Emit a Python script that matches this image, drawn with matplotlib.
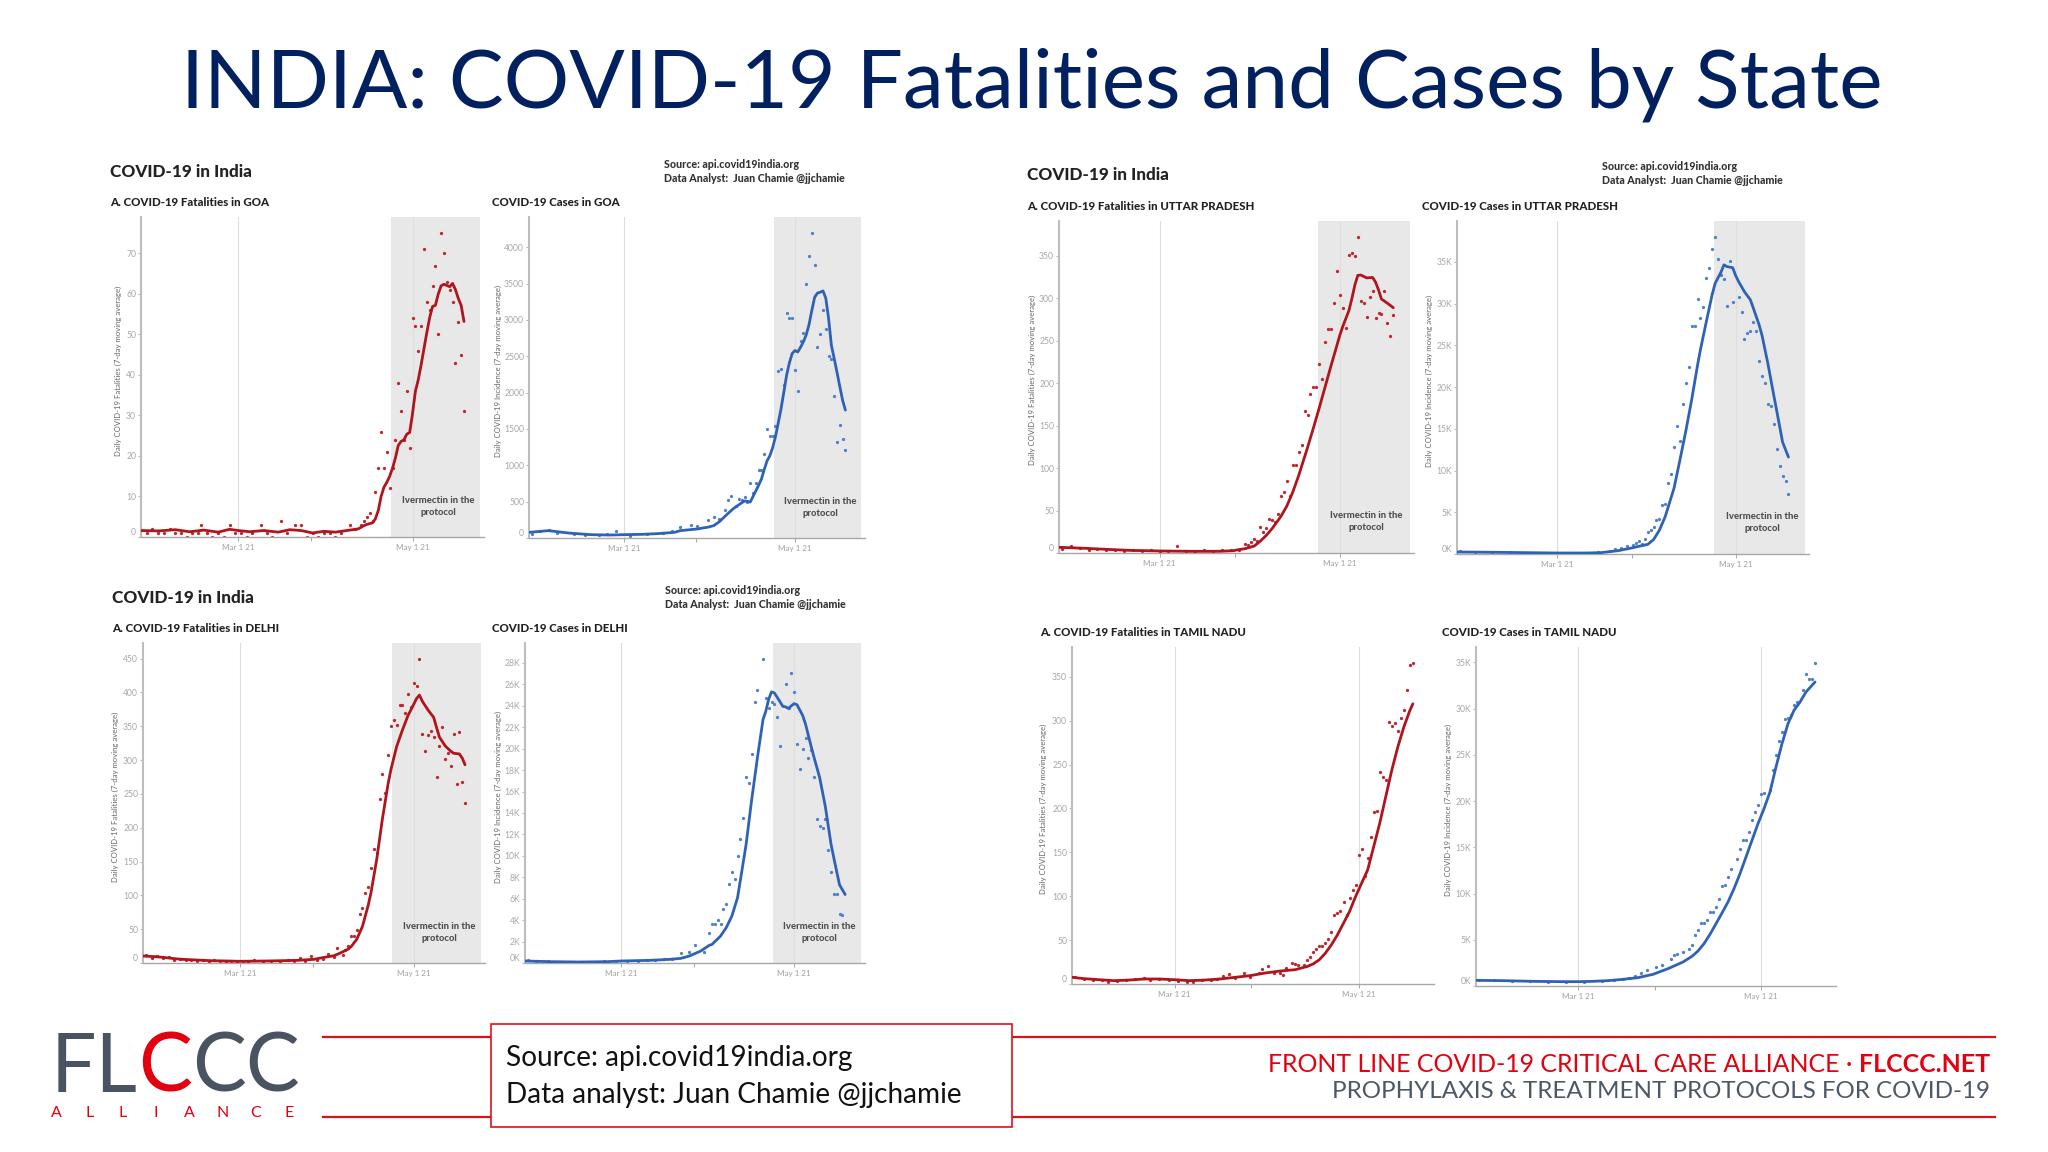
import matplotlib
matplotlib.use("Agg")
import matplotlib.pyplot as plt
import matplotlib.transforms as mtransforms
from matplotlib.lines import Line2D
from matplotlib.patches import Rectangle

plt.rcParams['font.family'] = ['Lato', 'DejaVu Sans']

W, H = 2048, 1152

### x axis is days counted from Mar 1 2021
X_TICK_DAYS = [0, 61]
X_TICK_LABELS = ["Mar 1 21", "May 1 21"]
IVM_START, IVM_END = 53.5, 84.5   # "Ivermectin in the protocol" band

### (day, 7-day average) and (day, daily value)
GOA_DEATHS_AVG = [(-34, 1.6), (-28, 1.5), (-22, 1.8), (-17, 1.3), (-12, 1.7), (-7, 1.2), (-3, 1.9), (0, 1.6),
                  (4, 1.3), (9, 1.6), (14, 1.2), (18, 1.8), (22, 1.6), (26, 1.0), (30, 1.4), (34, 1.2), (38, 1.6),
                  (41, 1.9), (42, 2.0), (43, 2.4), (44, 2.8), (45, 3.1), (46, 3.3), (47, 3.5), (48, 4.5), (49, 6.5),
                  (50, 10.0), (51, 12.3), (52, 13.5), (53, 15.0), (54, 17.0), (55, 19.5), (56, 22.6), (57, 23.6),
                  (58, 24.0), (59, 25.4), (60, 25.8), (61, 30.5), (62, 36.0), (63, 38.8), (64, 42.5), (65, 46.5),
                  (66, 50.5), (67, 54.2), (68, 56.9), (69, 57.2), (70, 60.0), (71, 62.0), (72, 62.4), (73, 62.1),
                  (74, 61.8), (75, 62.6), (76, 61.1), (77, 58.9), (78, 57.2), (79, 53.2)]
GOA_DEATHS = [(-32, 1), (-30, 2), (-28, 1), (-26, 1), (-24, 2), (-22, 1), (-20, 1), (-18, 0), (-16, 1), (-14, 1),
              (-13, 3), (-11, 1), (-9, 0), (-7, 1), (-5, 0), (-3, 3), (-1, 1), (1, 1), (3, 0), (5, 1), (8, 3),
              (10, 1), (12, 0), (15, 4), (17, 1), (20, 3), (22, 3), (24, 0), (26, 1), (28, 0), (30, 1), (32, 1),
              (34, 0), (36, 1), (39, 3), (41, 2), (43, 3), (44, 4), (45, 5), (46, 6), (47, 4), (48, 11), (49, 17),
              (50, 26), (51, 17), (52, 21), (53, 12), (54, 17), (55, 24), (56, 38), (57, 31), (58, 24), (59, 36),
              (60, 22), (61, 54), (62, 52), (63, 46), (64, 52), (65, 71), (66, 58), (67, 56), (68, 62), (69, 67),
              (70, 50), (71, 75), (72, 70), (73, 63), (74, 61), (75, 58), (76, 43), (77, 53), (78, 45), (79, 31)]

GOA_CASES_AVG = [(-34, 78), (-27, 101), (-20, 69), (-12, 46), (-5, 41), (0, 46), (6, 50), (12, 60), (18, 78),
                 (20, 101), (26, 124), (30, 150), (32, 170), (34, 225), (37, 335), (39, 405), (42, 485), (43, 510),
                 (44, 505), (45, 495), (46, 570), (48, 725), (49, 810), (50, 940), (51, 1060), (52, 1130),
                 (53, 1240), (54, 1390), (55, 1580), (56, 1775), (57, 2005), (58, 2240), (59, 2410), (60, 2540),
                 (61, 2580), (62, 2560), (63, 2626), (64, 2700), (65, 2795), (66, 2935), (67, 3130), (68, 3310),
                 (69, 3370), (70, 3382), (71, 3400), (72, 3300), (73, 3020), (74, 2650), (75, 2470), (76, 2280),
                 (77, 2085), (78, 1895), (79, 1760)]
GOA_CASES = [(-33, 60), (-30, 90), (-27, 110), (-24, 70), (-18, 50), (-14, 40), (-9, 35), (-6, 60), (-3, 101),
             (2, 30), (8, 60), (14, 70), (17, 90), (20, 156), (24, 184), (26, 170), (30, 248), (32, 285), (34, 262),
             (36, 386), (37, 523), (38, 583), (40, 445), (41, 537), (42, 523), (43, 560), (44, 490), (45, 753),
             (46, 620), (47, 753), (48, 937), (49, 937), (50, 1157), (51, 1501), (52, 1410), (53, 1410), (54, 1543),
             (55, 2296), (56, 2328), (57, 2107), (58, 3099), (59, 3026), (60, 3026), (61, 2305), (62, 2029),
             (63, 2704), (64, 2819), (65, 3499), (66, 3875), (67, 4197), (68, 3751), (69, 2635), (70, 2810),
             (71, 3131), (72, 2870), (73, 2498), (74, 2466), (75, 1960), (76, 1318), (77, 1561), (78, 1359),
             (79, 1212)]

UP_DEATHS_AVG = [(-34, 6.7), (-25, 5.5), (-18, 4.3), (-10, 3.1), (0, 2.4), (10, 2.0), (20, 2.0), (25, 2.7),
                 (26, 3.5), (29, 5.2), (32, 8.2), (34, 13.8), (36, 20.5), (38, 28.6), (41, 43), (43, 55.2),
                 (45, 71.5), (47, 91), (50, 124), (52, 147.3), (54, 171.2), (56, 196.2), (58, 221.1), (61, 257.3),
                 (62, 267.5), (64, 285.5), (65, 299.6), (66, 315.5), (67, 327), (68, 327.4), (70, 324), (72, 324.5),
                 (73, 319.1), (74, 309.9), (75, 299), (76, 296.7), (78, 291.6), (79, 288.9)]
UP_DEATHS = [(-33, 5), (-30, 8), (-27, 6), (-24, 4), (-21, 5), (-18, 3), (-15, 4), (-12, 2), (-9, 3), (-6, 2),
             (-3, 3), (0, 1), (3, 2), (6, 8), (9, 2), (12, 1), (15, 3), (18, 2), (21, 3), (24, 3), (27, 4), (29, 11),
             (30, 9), (31, 13), (32, 16), (33, 14), (34, 31), (35, 25), (36, 30), (37, 40), (38, 39), (39, 36),
             (40, 46), (41, 67), (42, 72), (43, 85), (44, 67), (45, 104), (46, 104), (47, 119), (48, 127), (49, 167),
             (50, 162), (51, 187), (52, 195), (53, 196), (54, 222), (55, 205), (56, 249), (57, 264), (58, 264),
             (59, 295), (60, 332), (61, 304), (62, 288), (63, 265), (64, 351), (65, 353), (66, 350), (67, 372),
             (68, 297), (69, 294), (70, 278), (71, 301), (72, 308), (73, 277), (74, 283), (75, 281), (76, 309),
             (77, 271), (78, 255), (79, 280)]

UP_CASES_AVG = [(-34, 240), (-20, 200), (-10, 160), (0, 120), (10, 120), (15, 160), (21, 400), (25, 680), (28, 920),
                (31, 1150), (33, 1720), (35, 2850), (37, 4500), (40, 7900), (42, 11270), (44, 14720), (46, 18480),
                (48, 22620), (49, 24500), (51, 27850), (53, 31100), (54, 32430), (56, 33780), (57, 34640),
                (58, 34440), (60, 34300), (61, 33360), (62, 32640), (64, 31420), (66, 30470), (67, 29480),
                (69, 27450), (70, 26170), (72, 22790), (74, 19000), (75, 17150), (77, 13400), (79, 11610)]
UP_CASES = [(-33, 300), (-28, 250), (-22, 180), (-16, 200), (-10, 150), (-4, 120), (2, 100), (8, 150), (14, 250),
            (18, 400), (20, 600), (22, 700), (24, 900), (26, 1100), (27, 1300), (28, 1520), (29, 1200), (30, 1800),
            (31, 2590), (32, 2910), (33, 3230), (34, 4030), (35, 4200), (36, 5910), (37, 5990), (38, 8500),
            (39, 9620), (40, 12770), (41, 15280), (42, 13570), (43, 17960), (44, 20470), (45, 22350), (46, 27370),
            (47, 27370), (48, 30570), (49, 28250), (50, 29650), (51, 33120), (52, 34320), (53, 36590), (54, 37950),
            (55, 35360), (56, 33440), (57, 33000), (58, 29770), (59, 35120), (60, 30170), (62, 30850), (63, 29050),
            (64, 25740), (65, 26540), (66, 26660), (67, 27850), (68, 26660), (69, 23180), (70, 21270), (71, 20470),
            (72, 18000), (73, 17680), (74, 15600), (75, 12570), (76, 10580), (77, 9380), (78, 8700), (79, 7180)]

DELHI_DEATHS_AVG = [(-34, 10.3), (-30, 9.4), (-27, 8.4), (-23, 6.4), (-20, 5.4), (-15, 4.4), (-10, 3.4), (-5, 3),
                    (0, 2.5), (10, 3), (20, 3.9), (26, 5.4), (29, 7.9), (33, 10.8), (35, 14.3), (38, 20.5),
                    (39, 24), (41, 35), (43, 54), (45, 85), (46, 104), (48, 153), (50, 213), (52, 265), (53, 286),
                    (55, 320), (57, 344), (59, 366), (60, 374), (62, 391), (63, 396), (64, 387), (66, 374),
                    (68, 363), (69, 348), (70, 334), (72, 321), (74, 313), (75, 310), (77, 309), (78, 303), (79, 293)]
DELHI_DEATHS = [(-33, 12), (-31, 8), (-29, 11), (-27, 7), (-25, 9), (-23, 5), (-21, 6), (-19, 4), (-17, 5),
                (-15, 3), (-13, 5), (-11, 2), (-9, 4), (-7, 3), (-5, 2), (-3, 3), (-1, 2), (1, 3), (3, 2), (5, 4),
                (8, 2), (11, 3), (14, 2), (17, 4), (19, 3), (21, 8), (23, 3), (25, 10), (27, 5), (29, 6), (31, 13),
                (33, 9), (34, 22), (36, 12), (37, 19), (38, 25), (39, 40), (40, 40), (41, 49), (42, 73), (43, 82),
                (44, 104), (45, 113), (46, 141), (47, 169), (48, 163), (49, 242), (50, 279), (51, 252), (52, 308),
                (53, 350), (54, 359), (55, 352), (56, 382), (57, 382), (58, 370), (59, 397), (60, 378), (61, 414),
                (62, 409), (63, 449), (64, 339), (65, 313), (66, 337), (67, 343), (68, 334), (69, 275), (70, 321),
                (71, 349), (72, 302), (73, 310), (74, 291), (75, 339), (76, 264), (77, 342), (78, 268), (79, 237)]

DELHI_CASES_AVG = [(-34, 186), (-25, 124), (-15, 93), (-5, 124), (0, 186), (5, 217), (10, 248), (15, 310),
                   (17, 341), (21, 434), (24, 651), (28, 1116), (31, 1643), (32, 1736), (35, 2512), (37, 3287),
                   (39, 4372), (41, 6078), (42, 7700), (44, 11000), (46, 15225), (48, 19100), (50, 22700),
                   (51, 23500), (52, 24600), (53, 25302), (54, 25200), (55, 24800), (57, 23950), (58, 23900),
                   (59, 23752), (60, 24000), (61, 24200), (62, 24100), (64, 23100), (65, 22300), (67, 20200),
                   (68, 19200), (70, 17300), (72, 14605), (74, 11100), (75, 9800), (77, 7300), (79, 6388)]
DELHI_CASES = [(-33, 250), (-30, 200), (-26, 150), (-22, 120), (-18, 100), (-14, 90), (-10, 110), (-6, 150),
               (-2, 180), (2, 230), (6, 200), (9, 280), (12, 300), (15, 400), (18, 350), (21, 899), (24, 1054),
               (26, 1643), (29, 1023), (31, 2822), (32, 3597), (33, 3597), (34, 4000), (35, 3597), (36, 5054),
               (37, 5519), (38, 7411), (39, 8465), (40, 7876), (41, 10016), (42, 11566), (43, 13519), (44, 17333),
               (45, 16775), (46, 19504), (47, 24372), (48, 25519), (50, 28403), (51, 24682), (52, 23752),
               (53, 24372), (54, 24155), (55, 22977), (56, 20279), (58, 26016), (59, 23752), (60, 27070),
               (61, 25271), (62, 20434), (63, 18109), (64, 19969), (65, 20961), (66, 19163), (67, 19876),
               (68, 17395), (69, 13426), (70, 12744), (71, 12589), (72, 13426), (73, 10574), (74, 8465), (75, 6450),
               (76, 6450), (77, 4527), (78, 4465)]

TN_DEATHS_AVG = [(-34, 7.6), (-30, 6.1), (-25, 4.9), (-20, 3.8), (-15, 4.5), (-10, 5.7), (-5, 5.7), (0, 4.9),
                 (5, 3.8), (10, 4.5), (15, 5.7), (20, 7.6), (25, 9.5), (30, 12.5), (35, 14.8), (40, 16.3),
                 (42, 18.2), (44, 20), (46, 23), (48, 27.7), (50, 35.2), (52, 44.7), (54, 56.1), (56, 69.3),
                 (58, 82.6), (60, 99.6), (62, 114.8), (64, 129.9), (66, 156.4), (68, 183), (70, 213.3), (72, 243.6),
                 (74, 270), (76, 292.8), (78, 311.7), (79, 319.3)]
TN_DEATHS = [(-33, 8), (-30, 6), (-27, 5), (-24, 4), (-22, 2), (-19, 3), (-16, 5), (-13, 6), (-10, 7), (-8, 4),
             (-5, 6), (-2, 5), (1, 3), (4, 2), (6, 2), (9, 4), (12, 5), (14, 6), (16, 9), (18, 11), (20, 7), (23, 12),
             (25, 8), (28, 13), (29, 17), (31, 20), (33, 13), (35, 12), (36, 10), (37, 18), (39, 24), (40, 23),
             (41, 22), (43, 22), (44, 27), (45, 31), (46, 36), (47, 40), (48, 43), (49, 43), (50, 47), (51, 51),
             (52, 59), (53, 79), (54, 81), (55, 83), (56, 94), (57, 79), (58, 98), (59, 107), (60, 113), (61, 147),
             (62, 154), (63, 123), (64, 144), (65, 167), (66, 196), (67, 197), (68, 242), (69, 236), (70, 232),
             (71, 299), (72, 294), (73, 297), (74, 288), (75, 303), (76, 312), (77, 335), (78, 364), (79, 366)]

TN_CASES_AVG = [(-34, 613), (-25, 577), (-15, 505), (-5, 469), (0, 469), (5, 505), (10, 577), (15, 721), (20, 901),
                (25, 1262), (30, 1875), (35, 2596), (38, 3208), (40, 3785), (42, 4578), (44, 5588), (46, 6741),
                (48, 7895), (50, 9084), (52, 10526), (54, 12149), (56, 13951), (58, 15754), (60, 17556),
                (62, 19178), (64, 20981), (66, 23684), (68, 26208), (70, 28370), (72, 29810), (74, 30713),
                (76, 31795), (78, 32516), (79, 32877)]
TN_CASES = [(-33, 650), (-28, 600), (-22, 550), (-16, 500), (-10, 480), (-4, 450), (2, 470), (8, 540), (12, 650),
            (15, 780), (17, 900), (19, 1100), (21, 1400), (23, 1694), (26, 2055), (28, 2235), (31, 2956), (32, 3317),
            (33, 3497), (35, 3677), (37, 4038), (38, 4398), (39, 5479), (40, 6020), (41, 6813), (42, 6813),
            (43, 7102), (44, 8003), (45, 8003), (46, 8544), (47, 9445), (48, 10778), (49, 10887), (50, 11788),
            (51, 12689), (53, 13771), (54, 14852), (55, 15754), (56, 15826), (57, 16655), (58, 17917), (59, 18818),
            (60, 19611), (61, 20800), (62, 20909), (64, 21161), (65, 23324), (66, 24946), (67, 26496), (68, 27469),
            (69, 28911), (70, 29020), (71, 29344), (72, 30353), (73, 30714), (75, 31976), (76, 33706), (77, 33237),
            (78, 33165), (79, 34932)]

FATAL_LABEL = "Daily COVID-19 Fatalities (7-day moving average)"
CASES_LABEL = "Daily COVID-19 Incidence (7-day moving average)"

RED, RED_DOT = "#b0141c", "#c0262d"
BLUE, BLUE_DOT = "#2f62b5", "#4f80cf"

fig = plt.figure(figsize=(W / 100, H / 100), dpi=100)
fig.patch.set_facecolor("white")


def add_panel(left, top, right, bottom):
    return fig.add_axes([left / W, 1 - bottom / H, (right - left) / W, (bottom - top) / H])


def fig_text(x, y, s, **kw):
    return fig.text(x / W, 1 - y / H, s, **kw)


def fit_width(txt, target):
    # scale font so that the text gets the width it has in the slide
    w = txt.get_window_extent(fig.canvas.get_renderer()).width
    txt.set_fontsize(txt.get_fontsize() * target / w)
    return txt


def k_label(v):
    return f"{int(v / 1000)}K"


def draw_panel(rect, avg, daily, color, dot_color, ymax, step, top_tick, kfmt, ylabel, label_px, shade):
    ax = add_panel(*rect)
    width_px = rect[2] - rect[0]
    ax.set_xlim(-34, 86)
    ax.set_ylim(0, ymax)

    if shade:
        ax.axvspan(IVM_START, IVM_END, color="#e8e8e8", lw=0, zorder=0)
        trans = mtransforms.blended_transform_factory(ax.transData, ax.transAxes)
        ax.text(70, 0.095, "Ivermectin in the\nprotocol", transform=trans, ha="center", va="center",
                fontsize=6.8, fontweight="black", color="#505050", linespacing=1.35)
    for d in X_TICK_DAYS:
        ax.axvline(d, color="#dedede", lw=0.8, zorder=0.5)

    dd, dv = zip(*daily)
    ad, av = zip(*avg)
    ax.scatter(dd, dv, s=5.5, color=dot_color, lw=0, zorder=2)
    ax.plot(ad, av, color=color, lw=2.0, zorder=3, solid_joinstyle="round", solid_capstyle="round")

    yt = list(range(0, top_tick + 1, step))
    ax.set_yticks(yt)
    ax.set_yticklabels([k_label(v) if kfmt else str(v) for v in yt])
    ax.yaxis.get_major_ticks()[0].label1.set_verticalalignment("bottom")
    ax.set_xticks(X_TICK_DAYS)
    ax.set_xticklabels(X_TICK_LABELS)
    ax.set_xticks([25.5], minor=True)
    ax.tick_params(axis="x", which="both", length=3, width=0.6, color="#9a9a9a",
                   labelsize=5.8, labelcolor="#a0a0a0", pad=2)
    ax.tick_params(axis="y", length=2.5, width=0.6, color="#aaaaaa",
                   labelsize=6.2, labelcolor="#a8a8a8", pad=1)

    for s in ["top", "right"]:
        ax.spines[s].set_visible(False)
    ax.spines["left"].set_color("#bdbdbd")
    ax.spines["left"].set_linewidth(1.5)
    ax.spines["bottom"].set_color("#a8a8a8")
    ax.spines["bottom"].set_linewidth(1.0)

    ax.set_ylabel(ylabel, fontsize=5.6, color="#666666")
    ax.yaxis.label.set_verticalalignment("center")
    ax.yaxis.set_label_coords(-label_px / width_px, 0.52)
    ax.set_facecolor("none")
    return ax


### GOA
draw_panel((141, 217, 484, 537), GOA_DEATHS_AVG, GOA_DEATHS, RED, RED_DOT, 79, 10, 70, False, FATAL_LABEL, 23, True)
draw_panel((529, 217, 865, 538), GOA_CASES_AVG, GOA_CASES, BLUE, BLUE_DOT, 4417, 500, 4000, False, CASES_LABEL, 31, True)
### UTTAR PRADESH
draw_panel((1059, 221, 1414, 553), UP_DEATHS_AVG, UP_DEATHS, RED, RED_DOT, 391, 50, 350, False, FATAL_LABEL, 27, True)
draw_panel((1457, 221, 1809, 554), UP_CASES_AVG, UP_CASES, BLUE, BLUE_DOT, 39900, 5000, 35000, True, CASES_LABEL, 28, True)
### DELHI
draw_panel((143, 643, 485, 963), DELHI_DEATHS_AVG, DELHI_DEATHS, RED, RED_DOT, 473, 50, 450, False, FATAL_LABEL, 28, True)
draw_panel((525, 643, 865, 963), DELHI_CASES_AVG, DELHI_CASES, BLUE, BLUE_DOT, 29860, 2000, 28000, True, CASES_LABEL, 27, True)
### TAMIL NADU
draw_panel((1072, 647, 1434, 984), TN_DEATHS_AVG, TN_DEATHS, RED, RED_DOT, 384, 50, 350, False, FATAL_LABEL, 29, False)
draw_panel((1476, 647, 1836, 986), TN_CASES_AVG, TN_CASES, BLUE, BLUE_DOT, 36660, 5000, 35000, True, CASES_LABEL, 28, False)

### panel headers
head = dict(fontweight="black", color="#222222", va="center", ha="left")
for x, y in [(110, 172), (112, 598), (1027, 175)]:
    fig_text(x, y, "COVID-19 in India", fontsize=12.3, **head)
subtitles = [(110, 203, "A. COVID-19 Fatalities in GOA"), (492, 203, "COVID-19 Cases in GOA"),
             (1027, 207, "A. COVID-19 Fatalities in UTTAR PRADESH"), (1422, 207, "COVID-19 Cases in UTTAR PRADESH"),
             (112, 629, "A. COVID-19 Fatalities in DELHI"), (492, 629, "COVID-19 Cases in DELHI"),
             (1040, 632, "A. COVID-19 Fatalities in TAMIL NADU"), (1442, 632, "COVID-19 Cases in TAMIL NADU")]
for x, y, s in subtitles:
    fig_text(x, y, s, fontsize=8.3, **head)
for x, y in [(664, 165), (1602, 167), (665, 591)]:
    fig_text(x, y, "Source: api.covid19india.org", fontsize=7.7, fontweight="black", color="#333333", va="center")
    fig_text(x, y + 14, "Data Analyst:  Juan Chamie @jjchamie", fontsize=7.7, fontweight="black",
             color="#333333", va="center")

### slide title
title = fig_text(181, 108, "INDIA: COVID-19 Fatalities and Cases by State", fontsize=60,
                 fontweight="normal", color="#002060", va="baseline", ha="left")
fit_width(title, 1703)

### footer: red rules, source box, logo, tagline
LINE_RED = "#dd1018"
for y in [1037, 1117]:
    fig.add_artist(Line2D([323 / W, 1995 / W], [1 - y / H, 1 - y / H], color=LINE_RED, lw=1.6))
fig.add_artist(Rectangle((491 / W, 1 - 1127 / H), (1012 - 491) / W, (1127 - 1024) / H, transform=fig.transFigure,
                         facecolor="white", edgecolor=LINE_RED, lw=1.2, zorder=5))
src1 = fig_text(506, 1058, "Source: api.covid19india.org", fontsize=18, color="#111111", va="center", zorder=6)
src2 = fig_text(506, 1095, "Data analyst: Juan Chamie @jjchamie", fontsize=18, color="#111111", va="center", zorder=6)
fit_width(src2, 453)
src1.set_fontsize(src2.get_fontsize())

renderer = fig.canvas.get_renderer()
x = 51
logo_size = 58
for piece, col in [("FL", "#4a5361"), ("C", "#e3000f"), ("CC", "#4a5361")]:
    t = fig_text(x, 1092, piece, fontsize=logo_size, fontweight="normal", color=col, va="baseline", ha="left")
    x += t.get_window_extent(renderer).width
for i, ch in enumerate("ALLIANCE"):
    fig_text(56 + i * (289 - 56) / 7, 1113, ch, fontsize=11.5, fontweight="normal", color="#e3000f",
             ha="center", va="center")

# first tagline line: regular part + bold site name, right aligned, fitted to the slide width
size = 15
bold = fig_text(1990, 1065, "FLCCC.NET", fontsize=size, fontweight="bold", color="#e3000f", ha="right", va="center")
front = fig_text(1990, 1065, "FRONT LINE COVID-19 CRITICAL CARE ALLIANCE · ", fontsize=size,
                 color="#e3000f", ha="right", va="center")
total = bold.get_window_extent(renderer).width + front.get_window_extent(renderer).width
size = size * 721 / total
bold.set_fontsize(size)
front.set_fontsize(size)
wb = bold.get_window_extent(renderer).width
front.set_x((1990 - wb) / W)
tag = fig_text(1990, 1092, "PROPHYLAXIS & TREATMENT PROTOCOLS FOR COVID-19", fontsize=15, color="#4d5866",
               ha="right", va="center")
fit_width(tag, 657)

plt.savefig("out.png", dpi=100, facecolor="white")
